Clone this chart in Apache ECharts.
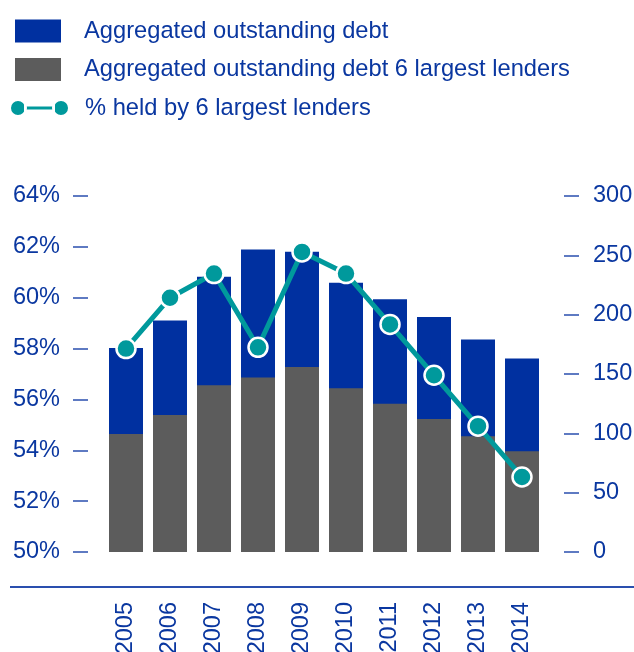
<!DOCTYPE html>
<html>
<head>
<meta charset="utf-8">
<style>
  html, body { margin: 0; padding: 0; background: #fff; }
  #chart { width: 634px; height: 652px; }
</style>
<script src="https://cdn.jsdelivr.net/npm/echarts@6/dist/echarts.min.js"></script>
</head>
<body>
<div id="chart"></div>
<script>
// data
const years = ["2005", "2006", "2007", "2008", "2009", "2010", "2011", "2012", "2013", "2014"];
const totalDebt = [172, 195, 232, 255, 253, 227, 213, 198, 179, 163];
const top6Debt = [99.5, 115.5, 140.5, 147, 156, 138, 125, 112, 97.5, 85];
const top6Share = [58.0, 60.0, 60.95, 58.05, 61.8, 60.95, 58.95, 56.95, 54.95, 52.95];
const pctTicks = [50, 52, 54, 56, 58, 60, 62, 64];
const debtTicks = [0, 50, 100, 150, 200, 250, 300];

const BLUE = "#0030a0";
const GREY = "#5c5c5c";
const TEAL = "#00999c";
const TEXT = "#0a37a0";
const FONT = "Liberation Sans, Arial, sans-serif";

// dot - bar - dot icon for the line series (59 x 16 box)
const lineIcon = "path://M0,8a8,8 0 1,0 16,0a8,8 0 1,0 -16,0Z M43,8a8,8 0 1,0 16,0a8,8 0 1,0 -16,0Z M15,5.5L44,5.5L44,10.5L15,10.5Z";

let legendText = { color: TEXT, fontSize: 23.7 };

let myChart = echarts.init(document.getElementById("chart"));
myChart.setOption({
  animation: false,
  textStyle: { fontFamily: FONT },
  legend: [
    {
      orient: "vertical",
      left: 15,
      top: 19,
      padding: 0,
      itemWidth: 46,
      itemHeight: 23,
      itemGap: 14.5,
      textStyle: Object.assign({ padding: [0, 0, 0, 18] }, legendText),
      data: [
        { name: "Aggregated outstanding debt", icon: "rect" },
        { name: "Aggregated outstanding debt 6 largest lenders", icon: "rect" }
      ]
    },
    {
      orient: "vertical",
      left: 9,
      top: 96,
      padding: 0,
      itemWidth: 59,
      itemHeight: 16,
      textStyle: Object.assign({ padding: [0, 0, 0, 11] }, legendText),
      data: [{ name: "% held by 6 largest lenders", icon: lineIcon }]
    }
  ],
  grid: { left: 104, right: 90, top: 196, bottom: 100, outerBoundsMode: "none" },
  xAxis: {
    type: "category",
    data: years,
    axisLine: { show: false },
    axisTick: { show: false },
    axisLabel: { rotate: 90, margin: 50, color: TEXT, fontSize: 23.5 }
  },
  yAxis: [
    {
      type: "value",
      min: 50,
      max: 64,
      interval: 2,
      offset: 16,
      axisLine: { show: false },
      axisTick: { show: true, length: 15, lineStyle: { color: "#2a4fae", width: 1.5 } },
      splitLine: { show: false },
      axisLabel: {
        margin: 28,
        color: TEXT,
        fontSize: 23.5,
        formatter: v => (pctTicks.includes(v) ? v + "%" : "")
      }
    },
    {
      type: "value",
      min: 0,
      max: 300,
      interval: 50,
      offset: 20,
      position: "right",
      axisLine: { show: false },
      axisTick: { show: true, length: 15, lineStyle: { color: "#2a4fae", width: 1.5 } },
      splitLine: { show: false },
      axisLabel: {
        margin: 29,
        color: TEXT,
        fontSize: 23.5,
        formatter: v => (debtTicks.includes(v) ? String(v) : "")
      }
    }
  ],
  graphic: [
    {
      type: "line",
      shape: { x1: 10, y1: 587, x2: 634, y2: 587 },
      style: { stroke: "#2a4fae", lineWidth: 2 }
    }
  ],
  series: [
    {
      name: "Aggregated outstanding debt",
      type: "bar",
      yAxisIndex: 1,
      barWidth: 34,
      barGap: "-100%",
      itemStyle: { color: BLUE },
      data: totalDebt
    },
    {
      name: "Aggregated outstanding debt 6 largest lenders",
      type: "bar",
      yAxisIndex: 1,
      barWidth: 34,
      barGap: "-100%",
      itemStyle: { color: GREY },
      data: top6Debt
    },
    {
      name: "% held by 6 largest lenders",
      type: "line",
      yAxisIndex: 0,
      symbol: "circle",
      symbolSize: 19,
      lineStyle: { color: TEAL, width: 5 },
      itemStyle: { color: TEAL, borderColor: "#fff", borderWidth: 2.5 },
      data: top6Share,
      z: 5
    }
  ]
});

window.onresize = function () {
  myChart.resize();
};
</script>
</body>
</html>
